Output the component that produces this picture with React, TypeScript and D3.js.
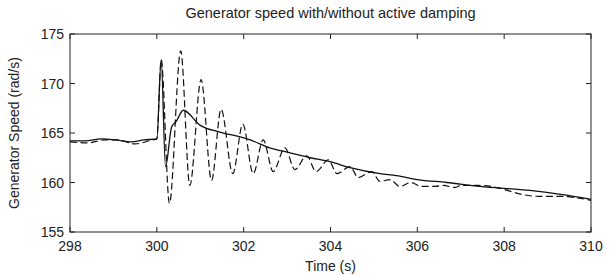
import React from 'react';
import * as d3 from 'd3';

// with active damping (solid)
const dampedTime = [298.0, 298.35, 298.72, 299.05, 299.41, 299.7, 300.0, 300.1, 300.2, 300.34, 300.45, 300.61, 300.99, 301.45, 301.92, 302.15, 302.6, 303.07, 303.53, 303.99, 304.45, 305.14, 305.52, 306.0, 306.68, 307.44, 308.59, 309.3, 310.0];
const dampedSpeed = [164.2, 164.2, 164.4, 164.3, 164.1, 164.3, 164.4, 172.4, 161.6, 165.6, 166.2, 167.3, 165.8, 165.1, 164.6, 164.3, 163.5, 163.0, 162.5, 162.1, 161.5, 160.9, 160.7, 160.3, 160.0, 159.6, 159.2, 158.8, 158.3];

// without active damping (dashed)
const undampedTime = [298.0, 298.4, 298.8, 299.1, 299.5, 299.9, 300.0, 300.1, 300.29, 300.55, 300.76, 301.02, 301.26, 301.48, 301.75, 301.98, 302.22, 302.45, 302.68, 302.95, 303.18, 303.45, 303.67, 303.95, 304.15, 304.45, 304.64, 304.95, 305.14, 305.37, 305.6, 305.85, 306.1, 306.4, 306.6, 306.87, 307.0, 307.4, 307.7, 308.0, 308.4, 308.8, 309.3, 309.6, 310.0];
const undampedSpeed = [164.1, 164.0, 164.3, 164.3, 163.9, 164.3, 164.4, 172.4, 157.9, 173.3, 159.7, 170.4, 160.2, 167.4, 160.9, 165.9, 160.9, 164.3, 161.1, 163.5, 161.3, 162.7, 161.1, 162.3, 160.9, 161.6, 160.5, 161.1, 160.1, 160.3, 159.6, 160.0, 159.6, 159.6, 159.7, 159.5, 159.7, 159.7, 159.6, 159.3, 158.8, 158.6, 158.6, 158.5, 158.2];

const xTicks = [298, 300, 302, 304, 306, 308, 310];
const yTicks = [155, 160, 165, 170, 175];

const W = 614;
const H = 275;
const margin = { top: 34, right: 23, bottom: 43, left: 70 };
const font = '"Liberation Sans", Arial, sans-serif';

export default function App() {
  const x = d3.scaleLinear().domain([298, 310]).range([margin.left, W - margin.right]);
  const y = d3.scaleLinear().domain([155, 175]).range([H - margin.bottom, margin.top]);
  const line = d3
    .line<number>()
    .x((d) => x(d))
    .curve(d3.curveMonotoneX);

  const solidPath = line.y((_, i) => y(dampedSpeed[i]))(dampedTime) || '';
  const dashedPath = line.y((_, i) => y(undampedSpeed[i]))(undampedTime) || '';

  const x0 = x.range()[0];
  const x1 = x.range()[1];
  const y0 = y.range()[0];
  const y1 = y.range()[1];
  const tick = 5;

  return (
    <svg width={W} height={H} style={{ position: 'absolute', left: 0, top: 0, background: '#fff' }} fontFamily={font}>
      <text x={(x0 + x1) / 2} y={18} textAnchor="middle" fontSize={14.5} fill="#222">
        Generator speed with/without active damping
      </text>
      <path d={dashedPath} fill="none" stroke="#111" strokeWidth={1.2} strokeDasharray="7,3.5" />
      <path d={solidPath} fill="none" stroke="#111" strokeWidth={1.3} />
      <rect x={x0} y={y1} width={x1 - x0} height={y0 - y1} fill="none" stroke="#222" strokeWidth={1} />
      {xTicks.map((t) => (
        <g key={'x' + t}>
          <line x1={x(t)} x2={x(t)} y1={y0} y2={y0 - tick} stroke="#222" />
          <line x1={x(t)} x2={x(t)} y1={y1} y2={y1 + tick} stroke="#222" />
          <text x={x(t)} y={y0 + 19} textAnchor="middle" fontSize={14} fill="#222">
            {t}
          </text>
        </g>
      ))}
      {yTicks.map((v) => (
        <g key={'y' + v}>
          <line x1={x0} x2={x0 + tick} y1={y(v)} y2={y(v)} stroke="#222" />
          <line x1={x1} x2={x1 - tick} y1={y(v)} y2={y(v)} stroke="#222" />
          <text x={x0 - 6} y={y(v) + 5} textAnchor="end" fontSize={14} fill="#222">
            {v}
          </text>
        </g>
      ))}
      <text x={(x0 + x1) / 2} y={271} textAnchor="middle" fontSize={14} fill="#222">
        Time (s)
      </text>
      <text transform={`translate(19, ${(y0 + y1) / 2}) rotate(-90)`} textAnchor="middle" fontSize={14} fill="#222">
        Generator Speed (rad/s)
      </text>
    </svg>
  );
}
